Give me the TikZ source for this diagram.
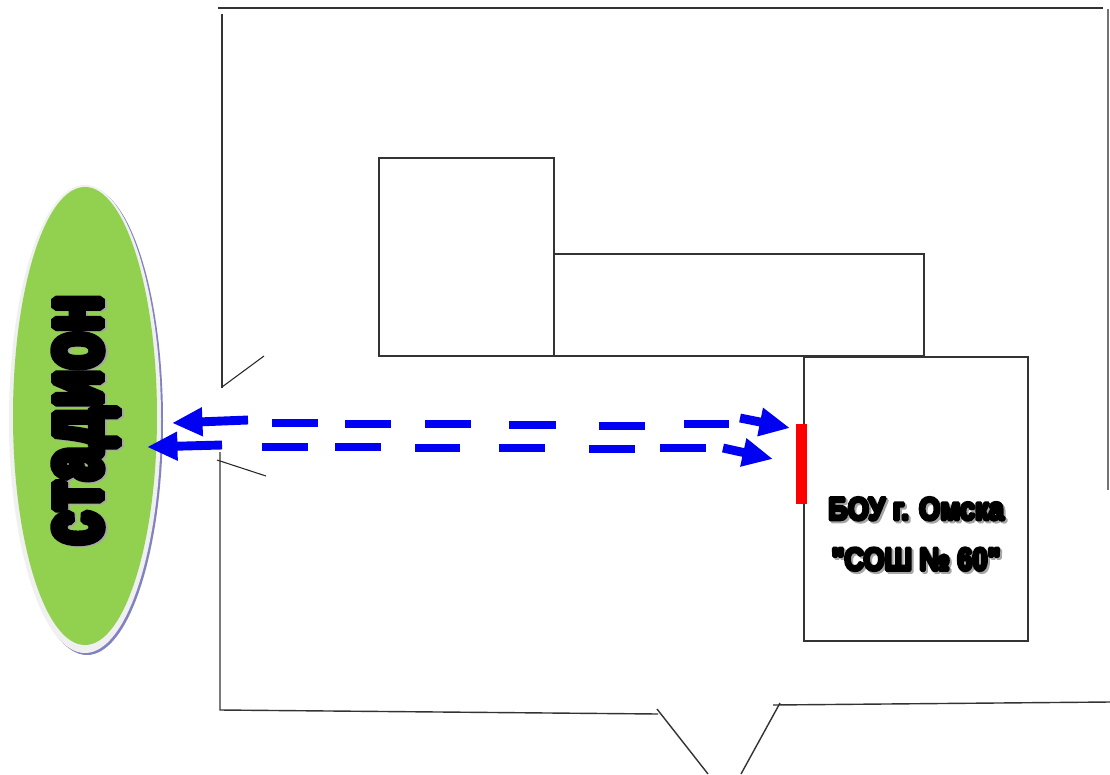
\documentclass[tikz,border=0pt]{standalone}
\usepackage{fontspec}
\setmainfont{Liberation Sans}
\newfontfamily\heavyfont[FakeBold=11]{Liberation Sans Bold}
\usetikzlibrary{arrows.meta}
\definecolor{fieldgreen}{RGB}{146,208,80}
\definecolor{fieldedge}{RGB}{130,130,195}
\tikzset{
  wall/.style={line width=1.2pt,black!80},
  gate/.style={line width=0.9pt,black!85},
  track/.style={line width=7.6pt,blue!95!black},
  trackhead/.style={track,-{Triangle[length=26pt,width=23pt]}},
  heavylabel/.style={inner sep=0pt,align=center,transform shape},
  fieldlabel/.style={heavylabel,rotate=90,xscale=0.73,font=\heavyfont\fontsize{72}{72}\selectfont},
  schoollabel/.style={heavylabel,xscale=0.86,font=\heavyfont\fontsize{27}{43}\selectfont}
}
\begin{document}
\begin{tikzpicture}[x=0.03cm,y=-0.03cm]
  \useasboundingbox (0,0) rectangle (1110,774);
  \fill[white] (0,0) rectangle (1110,774);

  % Stadium
  \fill[fieldedge] (87,421) ellipse (76 and 234);
  \fill[black!6] (85,419) ellipse (76 and 234);
  \fill[fieldgreen] (85,416) ellipse (72 and 229);
  \begin{scope}[line join=bevel]
    \node[fieldlabel,text=black!35] (stadiumshadow) at (88,421) {стадион};
    \node[fieldlabel,text=black] (stadiumtext) at (86,420) {стадион};
  \end{scope}

  % Fence
  \draw[wall] (218,8) -- (1103,8);
  \draw[line width=1.2pt,black!55] (1108,9) -- (1108,490);
  \draw[wall] (222,14) -- (222,388);
  \draw[wall] (220,452) -- (220,710) -- (658,714);
  \draw[wall] (773,705) -- (1110,702);

  % Gates
  \draw[gate] (222,387) -- (264,356);
  \draw[gate] (217,460) -- (266,476);
  \draw[wall] (657,709) -- (708,774);
  \draw[wall] (780,703) -- (741,774);

  % School buildings
  \draw[wall] (379,158) rectangle (554,356);
  \draw[wall] (554,254) rectangle (924,356);
  \draw[wall] (804,357) rectangle (1028,641);

  % Entrance
  \fill[red] (796,424) rectangle (807,504);

  % School name
  \begin{scope}[line join=bevel]
    \node[schoollabel,text=black!35] (schoolshadow) at (918,536) {БОУ г. Омска\\"СОШ № 60"};
    \node[schoollabel,text=black] (schooltext) at (916,534) {БОУ г. Омска\\"СОШ № 60"};
  \end{scope}

  % Route, upper line
  \draw[trackhead] (248,420) -- (172,423);
  \foreach \a/\b/\c in {272/318/423,345/391/424,425/471/424,509/556/425,599/645/426,684/729/424}
    \draw[track] (\a,\c) -- (\b,\c);
  \draw[trackhead] (740,418) -- (790,428);

  % Route, lower line
  \draw[trackhead] (222,445) -- (147,447);
  \foreach \a/\b/\c in {262/308/447,335/381/447,415/460/448,499/545/448,589/635/449,660/706/448}
    \draw[track] (\a,\c) -- (\b,\c);
  \draw[trackhead] (723,448) -- (773,459);
\end{tikzpicture}
\end{document}
